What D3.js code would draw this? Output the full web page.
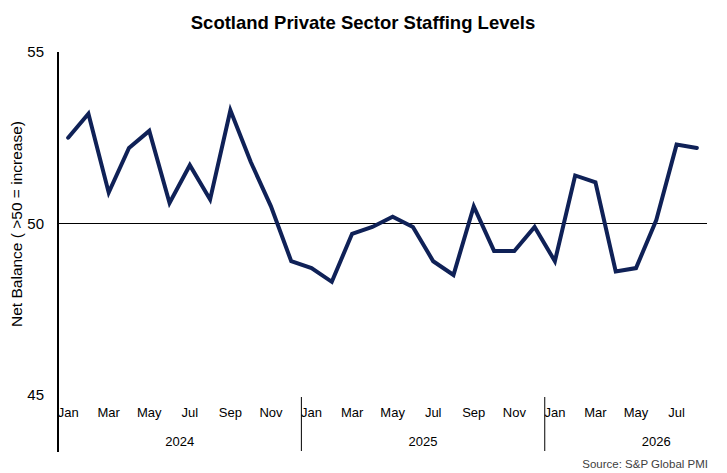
<!DOCTYPE html>
<html>
<head>
<meta charset="utf-8">
<script src="https://cdn.jsdelivr.net/npm/d3@7"></script>
<style>
  body { margin: 0; background: #fff; }
  svg { font-family: 'Liberation Sans', Arial, sans-serif; }
</style>
</head>
<body>
<div id="chart"></div>
<script>
// data -----------------------------------
var monthNames = ['Jan', 'Feb', 'Mar', 'Apr', 'May', 'Jun', 'Jul', 'Aug', 'Sep', 'Oct', 'Nov', 'Dec']
var years = ['2024', '2025', '2026']
var monthCount = 32
var staffing = [
  52.5, 53.2, 50.9, 52.2, 52.7, 50.6, 51.7, 50.7, 53.3, 51.8, 50.5, 48.9,
  48.7, 48.3, 49.7, 49.9, 50.2, 49.9, 48.9, 48.5, 50.5, 49.2, 49.2, 49.9,
  48.9, 51.4, 51.2, 48.6, 48.7, 50.1, 52.3, 52.2
]
var yTicks = [45, 50, 55]
// where the year label sits, in month index units
var yearLabelAt = [5.5, 17.5, 29]

var width = 727
var height = 473
var margin = {top: 52, right: 20, bottom: 78, left: 58}

var svg = d3.select('#chart').append('svg')
  .attr('width', width)
  .attr('height', height)

var x = d3.scaleBand()
  .domain(d3.range(monthCount))
  .range([margin.left, 707])
var y = d3.scaleLinear()
  .domain([45, 55])
  .range([395, margin.top])

var xc = function (i) { return x(i) + x.bandwidth() / 2 }

// title
svg.append('text')
  .attr('x', 363)
  .attr('y', 29)
  .attr('text-anchor', 'middle')
  .attr('style', 'font-size: 18.5px; font-weight: bold')
  .attr('fill', '#000')
  .text('Scotland Private Sector Staffing Levels')

// y axis label
svg.append('text')
  .attr('transform', 'translate(22,' + 224 + ') rotate(-90)')
  .attr('text-anchor', 'middle')
  .attr('style', 'font-size: 15.5px')
  .text('Net Balance ( >50 = increase)')

// y axis
var yAxis = d3.axisLeft(y).tickValues(yTicks).tickSize(0).tickPadding(14)
var axisY = svg.append('g')
  .attr('transform', 'translate(' + margin.left + ',0)')
  .call(yAxis)
axisY.select('.domain').remove()
axisY.selectAll('text').attr('style', 'font-size: 15px; font-family: Liberation Sans, Arial, sans-serif').attr('fill', '#000')

svg.append('line')
  .attr('x1', margin.left).attr('x2', margin.left)
  .attr('y1', y(55)).attr('y2', 452)
  .attr('stroke', '#000').attr('stroke-width', 2)

// horizontal axis at 50
svg.append('line')
  .attr('x1', margin.left).attr('x2', 707)
  .attr('y1', y(50)).attr('y2', y(50))
  .attr('stroke', '#000').attr('stroke-width', 1.2)

// month labels
var xAxis = d3.axisBottom(x)
  .tickValues(d3.range(0, monthCount, 2))
  .tickFormat(function (d) { return monthNames[d % 12] })
  .tickSize(0)
  .tickPadding(0)
var axisX = svg.append('g')
  .attr('transform', 'translate(0,' + 408 + ')')
  .call(xAxis)
axisX.select('.domain').remove()
axisX.selectAll('text')
  .attr('style', 'font-size: 13px; font-family: Liberation Sans, Arial, sans-serif')
  .attr('fill', '#000')

// year separators and labels
years.forEach(function (yr, k) {
  if (k > 0) {
    svg.append('line')
      .attr('x1', x(k * 12)).attr('x2', x(k * 12))
      .attr('y1', 397).attr('y2', 451)
      .attr('stroke', '#000').attr('stroke-width', 1)
  }
  svg.append('text')
    .attr('x', x(0) + x.bandwidth() * (yearLabelAt[k] + 0.5))
    .attr('y', 446)
    .attr('text-anchor', 'middle')
    .attr('style', 'font-size: 13px')
    .text(yr)
})

// line
var line = d3.line()
  .x(function (d, i) { return xc(i) })
  .y(function (d) { return y(d) })
svg.append('path')
  .datum(staffing)
  .attr('d', line)
  .attr('fill', 'none')
  .attr('stroke', '#0f2157')
  .attr('stroke-width', 4)
  .attr('stroke-linejoin', 'miter')
  .attr('stroke-linecap', 'round')

// source
svg.append('text')
  .attr('x', 708)
  .attr('y', 468)
  .attr('text-anchor', 'end')
  .attr('style', 'font-size: 11.5px')
  .attr('fill', '#404040')
  .text('Source: S&P Global PMI')
</script>
</body>
</html>
